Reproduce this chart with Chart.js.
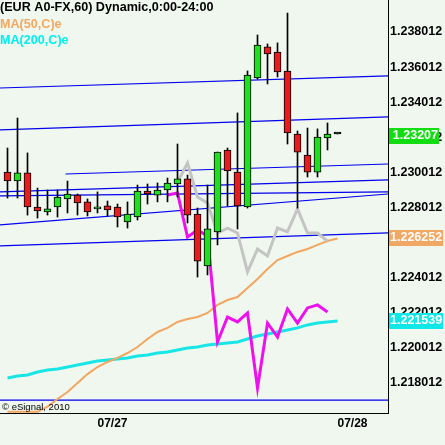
<!DOCTYPE html>
<html>
<head>
<meta charset="utf-8">
<script src="https://cdn.jsdelivr.net/npm/chart.js@4.4.0/dist/chart.umd.min.js"></script>
<style>
  html, body { margin: 0; padding: 0; background: #eff7ef; }
  #wrap { width: 445px; height: 445px; }
</style>
</head>
<body>
<div id="wrap"><canvas id="fxChart" width="445" height="445"></canvas></div>
<script>
// hourly candles, x = bar number (bar 9 = 07/27 00:00, bar 33 = 07/28 00:00)
const openPrices = [1.23003, 1.22952, 1.22998, 1.22804, 1.22776, 1.22804, 1.22850, 1.22872, 1.22833, 1.22793,
    1.22810, 1.22804, 1.22719, 1.22747, 1.22895, 1.22872, 1.22901, 1.22935, 1.22964, 1.22764,
    1.22468, 1.22662, 1.23129, 1.23003, 1.22804, 1.23539, 1.23716, 1.23687, 1.23579, 1.23220,
    1.23100, 1.23003, 1.23197, 1.23220];
const highPrices = [1.23140, 1.23311, 1.23112, 1.22912, 1.22901, 1.22901, 1.22952, 1.22878, 1.22850, 1.22890,
    1.22838, 1.22821, 1.22833, 1.22929, 1.22935, 1.22941, 1.22969, 1.23163, 1.22986, 1.22798,
    1.22929, 1.23117, 1.23140, 1.23340, 1.23579, 1.23784, 1.23733, 1.23739, 1.23909, 1.23237,
    1.23254, 1.23249, 1.23283, 1.23220];
const lowPrices = [1.22855, 1.22855, 1.22758, 1.22741, 1.22758, 1.22747, 1.22770, 1.22758, 1.22753, 1.22770,
    1.22753, 1.22690, 1.22684, 1.22730, 1.22821, 1.22833, 1.22833, 1.22861, 1.22713, 1.22405,
    1.22417, 1.22588, 1.22810, 1.22679, 1.22798, 1.23533, 1.23505, 1.23545, 1.23163, 1.22798,
    1.22975, 1.22975, 1.23129, 1.23220];
const closePrices = [1.22952, 1.22998, 1.22804, 1.22781, 1.22793, 1.22861, 1.22878, 1.22827, 1.22776, 1.22804,
    1.22787, 1.22747, 1.22764, 1.22895, 1.22878, 1.22901, 1.22941, 1.22964, 1.22758, 1.22496,
    1.22679, 1.23117, 1.23009, 1.22810, 1.23556, 1.23727, 1.23676, 1.23573, 1.23226, 1.23117,
    1.23003, 1.23203, 1.23220, 1.23220];

const ma50Values = [1.21637, 1.21637, 1.21637, 1.21637, 1.21666, 1.21710, 1.21750, 1.21801, 1.21852, 1.21892,
    1.21921, 1.21944, 1.21972, 1.22006, 1.22052, 1.22092, 1.22115, 1.22149, 1.22166, 1.22177,
    1.22200, 1.22246, 1.22274, 1.22291, 1.22343, 1.22394, 1.22451, 1.22502, 1.22525, 1.22548,
    1.22565, 1.22588, 1.22610, 1.22625];
const ma200Values = [1.21830, 1.21841, 1.21847, 1.21864, 1.21875, 1.21881, 1.21892, 1.21904, 1.21915, 1.21927,
    1.21932, 1.21938, 1.21944, 1.21955, 1.21961, 1.21972, 1.21978, 1.21989, 1.22001, 1.22006,
    1.22018, 1.22023, 1.22029, 1.22035, 1.22052, 1.22069, 1.22080, 1.22092, 1.22103, 1.22115,
    1.22132, 1.22143, 1.22149, 1.22154];

const magentaStart = 16;
const magentaValues = [1.22872, 1.22884, 1.22633, 1.22673, 1.22639, 1.22035, 1.22177, 1.22149, 1.22200, 1.21773,
    1.22143, 1.22063, 1.22223, 1.22143, 1.22229, 1.22246, 1.22206];
const grayStart = 17;
const grayValues = [1.22946, 1.23055, 1.22861, 1.22827, 1.22656, 1.22684, 1.22656, 1.22434, 1.22565, 1.22525,
    1.22684, 1.22662, 1.22793, 1.22656, 1.22656, 1.22610];

// [from bar, from price, to bar, to price]
const trendLines = [
    [-0.75, 1.23482, 38.05, 1.23551],
    [-0.75, 1.23243, 38.05, 1.23317],
    [5.8, 1.22992, 38.05, 1.23049],
    [-0.75, 1.22890, 38.05, 1.22958],
    [-0.75, 1.22867, 38.05, 1.22890],
    [-0.75, 1.22702, 38.05, 1.22878],
    [-0.75, 1.22582, 38.05, 1.22656],
    [-0.75, 1.21704, 38.05, 1.21704]
];

const dateTicks = [9, 33];
const dateLabels = ["07/27", "07/28"];
const priceTicks = [1.218012, 1.220012, 1.222012, 1.224012, 1.226012, 1.228012, 1.230012, 1.232012, 1.234012, 1.236012, 1.238012];

const headerTexts = ["(EUR A0-FX,60) Dynamic,0:00-24:00", "MA(50,C)e", "MA(200,C)e"];
const headerColors = ["#000000", "#f4a860", "#00f0f0"];
const markerValues = [1.23207, 1.226252, 1.221539];
const markerTexts = ["1.23207", "1.226252", "1.221539"];
const markerColors = ["#11dd11", "#f2a865", "#10e8e8"];

const barIndex = openPrices.map((_, i) => i);
const candleColors = barIndex.map(i =>
    closePrices[i] > openPrices[i] ? "#1ee01e" : closePrices[i] < openPrices[i] ? "#e81c1c" : "#000000");

function seriesPoints(start, values) {
    return values.map((v, k) => ({ x: start + k, y: v }));
}

const boldFont = '"Liberation Sans", Arial, sans-serif';

const backgroundAndLabels = {
    id: "backgroundAndLabels",
    beforeDraw(chart) {
        const ctx = chart.ctx;
        ctx.save();
        ctx.fillStyle = "#eff7ef";
        ctx.fillRect(0, 0, chart.width, chart.height);
        ctx.restore();
    },
    afterDraw(chart) {
        const ctx = chart.ctx;
        const yScale = chart.scales.y;
        const area = chart.chartArea;
        ctx.save();
        ctx.textBaseline = "middle";
        ctx.textAlign = "left";
        ctx.font = "bold 12.6px " + boldFont;
        headerTexts.forEach((t, k) => {
            ctx.fillStyle = headerColors[k];
            ctx.fillText(t, 0, 8 + k * 16.5);
        });

        ctx.font = "9.5px " + boldFont;
        ctx.fillStyle = "#000000";
        ctx.fillText("\u00a9 eSignal, 2010", 2, 407);

        ctx.font = "bold 12.5px " + boldFont;
        markerValues.forEach((v, k) => {
            const y = Math.round(yScale.getPixelForValue(v));
            const tw = ctx.measureText(markerTexts[k]).width;
            const right = Math.max(439, area.right + 3 + tw);
            ctx.fillStyle = markerColors[k];
            ctx.fillRect(area.right + 1, y - 8, right - area.right - 1, 16);
            ctx.fillStyle = "#ffffff";
            ctx.textAlign = "right";
            ctx.fillText(markerTexts[k], right - 1, y);
        });
        ctx.restore();
    }
};

const datasets = [
    {
        type: "bar",
        data: barIndex.map(i => ({ x: i, y: [openPrices[i], closePrices[i]] })),
        backgroundColor: candleColors,
        borderColor: "#000000",
        borderWidth: 1,
        borderSkipped: false,
        barThickness: 7,
        minBarLength: 2,
        grouped: false,
        order: 0
    },
    {
        type: "bar",
        data: barIndex.map(i => ({ x: i, y: [lowPrices[i], highPrices[i]] })),
        backgroundColor: "#000000",
        barThickness: 1,
        grouped: false,
        order: 1
    },
    {
        type: "line",
        data: seriesPoints(magentaStart, magentaValues),
        borderColor: "#ee11ee",
        borderWidth: 3,
        pointRadius: 0,
        tension: 0,
        order: 2
    },
    {
        type: "line",
        data: seriesPoints(grayStart, grayValues),
        borderColor: "#c4c4c4",
        borderWidth: 3,
        pointRadius: 0,
        tension: 0,
        order: 2
    },
    {
        type: "line",
        data: seriesPoints(0, ma50Values),
        borderColor: "#f2a660",
        borderWidth: 2,
        pointRadius: 0,
        tension: 0,
        order: 3
    },
    {
        type: "line",
        data: seriesPoints(0, ma200Values),
        borderColor: "#18e6e6",
        borderWidth: 3,
        pointRadius: 0,
        tension: 0,
        order: 3
    }
];

trendLines.forEach(t => {
    datasets.push({
        type: "line",
        data: [{ x: t[0], y: t[1] }, { x: t[2], y: t[3] }],
        borderColor: "#0000ee",
        borderWidth: 1.2,
        pointRadius: 0,
        tension: 0,
        order: 4
    });
});

const fxChart = new Chart(document.getElementById("fxChart").getContext("2d"), {
    type: "bar",
    data: { datasets: datasets },
    options: {
        responsive: false,
        animation: false,
        devicePixelRatio: 1,
        layout: { padding: 0 },
        plugins: {
            legend: { display: false },
            tooltip: { enabled: false },
            title: { display: false }
        },
        scales: {
            x: {
                type: "linear",
                min: -0.75,
                max: 38.05,
                offset: false,
                grid: { display: false, drawTicks: false, offset: false },
                border: { display: true, color: "#000000", width: 1 },
                afterBuildTicks: scale => { scale.ticks = dateTicks.map(v => ({ value: v })); },
                afterFit: scale => { scale.height = 32; scale.paddingLeft = 0; scale.paddingRight = 0; },
                ticks: {
                    autoSkip: false,
                    maxRotation: 0,
                    minRotation: 0,
                    align: "start",
                    padding: 3,
                    color: "#000000",
                    font: { family: boldFont, size: 12, weight: "bold" },
                    callback: v => dateLabels[dateTicks.indexOf(v)]
                }
            },
            y: {
                type: "linear",
                position: "right",
                min: 1.216302,
                max: 1.239835,
                beginAtZero: false,
                grid: { display: false, drawTicks: false },
                border: { display: true, color: "#000000", width: 1 },
                afterBuildTicks: scale => { scale.ticks = priceTicks.map(v => ({ value: v })); },
                afterFit: scale => { scale.width = 57; scale.paddingTop = 0; scale.paddingBottom = 0; },
                ticks: {
                    autoSkip: false,
                    padding: 2,
                    color: "#000000",
                    font: { family: boldFont, size: 12.5, weight: "bold" },
                    callback: v => v.toFixed(6)
                }
            }
        }
    },
    plugins: [backgroundAndLabels]
});
</script>
</body>
</html>
